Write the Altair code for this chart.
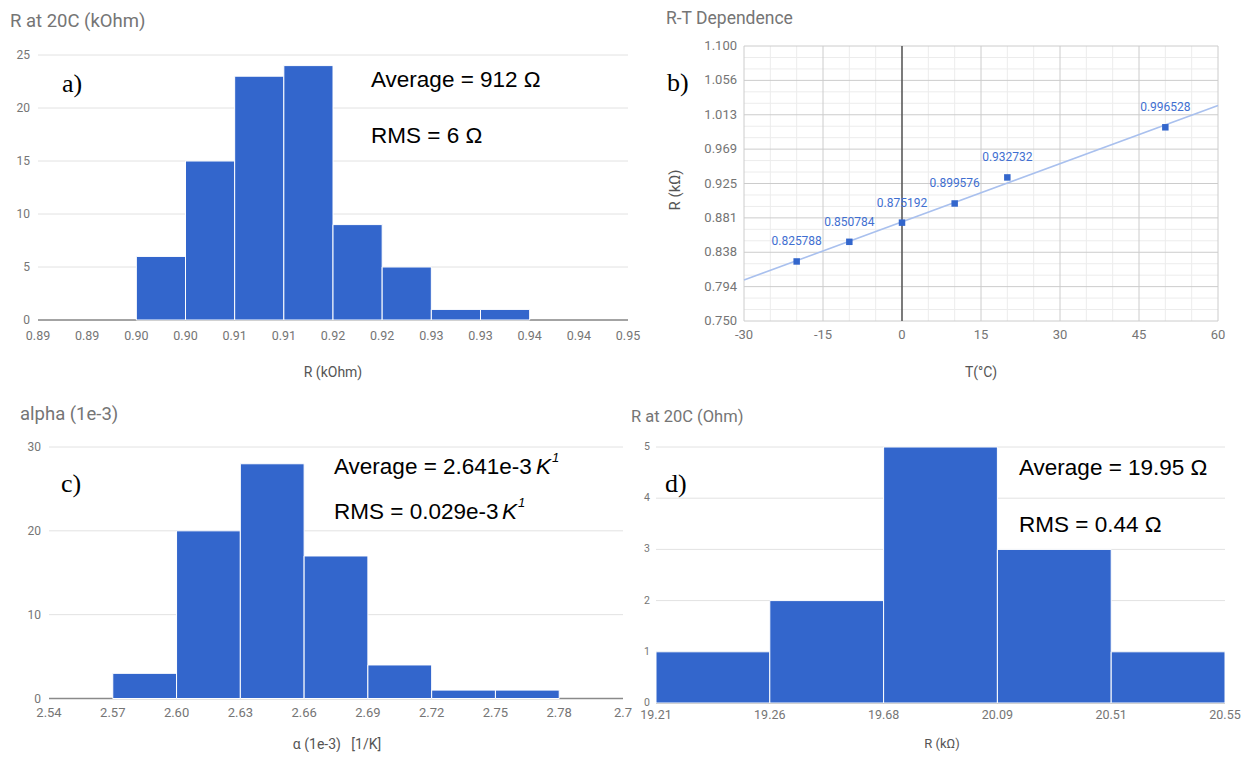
import altair as alt
import pandas as pd

# ---------------- data ----------------
# a) R at 20C (kOhm) histogram
a_bin_lo = [0.900, 0.905, 0.910, 0.915, 0.920, 0.925, 0.930, 0.935]
a_bin_hi = [0.905, 0.910, 0.915, 0.920, 0.925, 0.930, 0.935, 0.940]
a_count = [6, 15, 23, 24, 9, 5, 1, 1]
a_x_ticks = [0.890, 0.895, 0.900, 0.905, 0.910, 0.915, 0.920, 0.925, 0.930, 0.935, 0.940, 0.945, 0.950]
a_x_labels = ["0.89", "0.89", "0.90", "0.90", "0.91", "0.91", "0.92", "0.92", "0.93", "0.93", "0.94", "0.94", "0.95"]
a_y_ticks = [0, 5, 10, 15, 20, 25]
a_y_labels = ["0", "5", "10", "15", "20", "25"]

# b) R-T dependence
b_temp = [-20, -10, 0, 10, 20, 50]
b_res = [0.825788, 0.850784, 0.875192, 0.899576, 0.932732, 0.996528]
b_x_ticks = [-30, -15, 0, 15, 30, 45, 60]
b_x_labels = ["-30", "-15", "0", "15", "30", "45", "60"]
b_y_ticks = [0.750, 0.79375, 0.8375, 0.88125, 0.925, 0.96875, 1.0125, 1.05625, 1.100]
b_y_labels = ["0.750", "0.794", "0.838", "0.881", "0.925", "0.969", "1.013", "1.056", "1.100"]

# c) alpha histogram
c_bin_lo = [2.57, 2.60, 2.63, 2.66, 2.69, 2.72, 2.75]
c_bin_hi = [2.60, 2.63, 2.66, 2.69, 2.72, 2.75, 2.78]
c_count = [3, 20, 28, 17, 4, 1, 1]
c_x_ticks = [2.54, 2.57, 2.60, 2.63, 2.66, 2.69, 2.72, 2.75, 2.78, 2.81]
c_x_labels = ["2.54", "2.57", "2.60", "2.63", "2.66", "2.69", "2.72", "2.75", "2.78", "2.7"]
c_y_ticks = [0, 10, 20, 30]
c_y_labels = ["0", "10", "20", "30"]

# d) R at 20C (Ohm) histogram (equal-width bins, labelled edges)
d_bin_lo = [0, 1, 2, 3, 4]
d_bin_hi = [1, 2, 3, 4, 5]
d_count = [1, 2, 5, 3, 1]
d_x_ticks = [0, 1, 2, 3, 4, 5]
d_x_labels = ["19.21", "19.26", "19.68", "20.09", "20.51", "20.55"]
d_y_ticks = [0, 1, 2, 3, 4, 5]
d_y_labels = ["0", "1", "2", "3", "4", "5"]

# ---------------- styling ----------------
W, H = 1236, 744
BLUE = "#3366cc"
GRID = "#e2e2e2"
LABEL = "#757575"
TITLE = "#555555"
FONT = "Roboto"
ANNOT = "Liberation Sans, Arial, sans-serif"
SERIF = "Liberation Serif, Times New Roman, serif"
NBSP = "\u00a0"


def scale(domain, rng):
    return alt.Scale(domain=domain, range=rng, nice=False, zero=False, padding=0)


def hrule(ticks, x0, x1, xs, ys, color=GRID, width=1.0):
    df = pd.DataFrame({"v": ticks, "x0": x0, "x1": x1})
    return alt.Chart(df).mark_rule(color=color, strokeWidth=width).encode(
        x=alt.X("x0:Q", scale=xs, axis=None), x2="x1:Q",
        y=alt.Y("v:Q", scale=ys, axis=None))


def vrule(ticks, y0, y1, xs, ys, color=GRID, width=1.0):
    df = pd.DataFrame({"v": ticks, "y0": y0, "y1": y1})
    return alt.Chart(df).mark_rule(color=color, strokeWidth=width).encode(
        x=alt.X("v:Q", scale=xs, axis=None),
        y=alt.Y("y0:Q", scale=ys, axis=None), y2="y1:Q")


def hist(lo, hi, cnt, xs, ys):
    df = pd.DataFrame({"lo": lo, "hi": hi, "n": cnt, "z": 0})
    return alt.Chart(df).mark_rect(color=BLUE, stroke="white", strokeWidth=1).encode(
        x=alt.X("lo:Q", scale=xs, axis=None), x2="hi:Q",
        y=alt.Y("n:Q", scale=ys, axis=None), y2="z:Q")


def xlabels(ticks, labels, xs, ypix, size):
    df = pd.DataFrame({"v": ticks, "lab": labels})
    return alt.Chart(df).mark_text(align="center", baseline="middle", font=FONT,
                                   fontSize=size, color=LABEL).encode(
        x=alt.X("v:Q", scale=xs, axis=None), y=alt.value(ypix), text="lab:N")


def ylabels(ticks, labels, ys, xpix, size):
    df = pd.DataFrame({"v": ticks, "lab": labels})
    return alt.Chart(df).mark_text(align="right", baseline="middle", font=FONT,
                                   fontSize=size, color=LABEL).encode(
        x=alt.value(xpix), y=alt.Y("v:Q", scale=ys, axis=None), text="lab:N")


def note(text, x, y, size, font, color="#000000", style="normal", align="left", angle=0):
    kw = {"angle": angle} if angle else {}
    return alt.Chart(pd.DataFrame({"t": [text]})).mark_text(
        align=align, baseline="middle", font=font, fontSize=size, color=color,
        fontStyle=style, **kw).encode(x=alt.value(x), y=alt.value(y), text="t:N")


# ---------------- panel a ----------------
a_xs = scale([a_x_ticks[0], a_x_ticks[-1]], [30, 620])
a_ys = scale([a_y_ticks[0], a_y_ticks[-1]], [312, 47])
panel_a = alt.layer(
    hrule(a_y_ticks, a_x_ticks[0], a_x_ticks[-1], a_xs, a_ys),
    hrule([0], a_x_ticks[0], a_x_ticks[-1], a_xs, a_ys, color="#8a8a8a", width=1.6),
    hist(a_bin_lo, a_bin_hi, a_count, a_xs, a_ys),
    xlabels(a_x_ticks, a_x_labels, a_xs, 328, 12.5),
    ylabels(a_y_ticks, a_y_labels, a_ys, 22, 12),
)

# ---------------- panel b ----------------
b_xs = scale([b_x_ticks[0], b_x_ticks[-1]], [736, 1210])
b_ys = scale([b_y_ticks[0], b_y_ticks[-1]], [313, 38])
b_x_minor = [v + d for v in b_x_ticks[:-1] for d in (5, 10)]
b_y_minor = [b_y_ticks[i] + (b_y_ticks[i + 1] - b_y_ticks[i]) * k / 3
             for i in range(len(b_y_ticks) - 1) for k in (1, 2)]
ymin, ymax = b_y_ticks[0], b_y_ticks[-1]
xmin, xmax = b_x_ticks[0], b_x_ticks[-1]
df_b = pd.DataFrame({"T": b_temp, "R": b_res})

b_trend = alt.Chart(df_b).transform_regression("T", "R", extent=[xmin, xmax]).mark_line(
    color="#a9c0ee", strokeWidth=1.6).encode(
    x=alt.X("T:Q", scale=b_xs, axis=None), y=alt.Y("R:Q", scale=b_ys, axis=None))
b_pts = alt.Chart(df_b).mark_square(color=BLUE, size=42, opacity=1).encode(
    x=alt.X("T:Q", scale=b_xs, axis=None), y=alt.Y("R:Q", scale=b_ys, axis=None))
b_lbl = alt.Chart(df_b).mark_text(color="#3f6fd1", font=FONT, fontSize=12, dy=-20).encode(
    x=alt.X("T:Q", scale=b_xs, axis=None), y=alt.Y("R:Q", scale=b_ys, axis=None),
    text=alt.Text("R:Q", format=".6f"))
panel_b = alt.layer(
    vrule(b_x_minor, ymin, ymax, b_xs, b_ys, color="#ececec"),
    hrule(b_y_minor, xmin, xmax, b_xs, b_ys, color="#ececec"),
    vrule(b_x_ticks, ymin, ymax, b_xs, b_ys, color="#cccccc"),
    hrule(b_y_ticks, xmin, xmax, b_xs, b_ys, color="#cccccc"),
    vrule([0], ymin, ymax, b_xs, b_ys, color="#333333", width=1.2),
    b_trend, b_pts, b_lbl,
    xlabels(b_x_ticks, b_x_labels, b_xs, 327, 13),
    ylabels(b_y_ticks, b_y_labels, b_ys, 729, 13),
)

# ---------------- panel c ----------------
c_xs = scale([c_x_ticks[0], c_x_ticks[-1]], [41, 615])
c_ys = scale([c_y_ticks[0], c_y_ticks[-1]], [690.5, 439])
panel_c = alt.layer(
    hrule(c_y_ticks, c_x_ticks[0], c_x_ticks[-1], c_xs, c_ys),
    hrule([0], c_x_ticks[0], c_x_ticks[-1], c_xs, c_ys, color="#8a8a8a", width=1.6),
    hist(c_bin_lo, c_bin_hi, c_count, c_xs, c_ys),
    xlabels(c_x_ticks, c_x_labels, c_xs, 705, 13),
    ylabels(c_y_ticks, c_y_labels, c_ys, 33, 12),
)

# ---------------- panel d ----------------
d_xs = scale([d_x_ticks[0], d_x_ticks[-1]], [648, 1217])
d_ys = scale([d_y_ticks[0], d_y_ticks[-1]], [695, 439])
panel_d = alt.layer(
    hrule(d_y_ticks, d_x_ticks[0], d_x_ticks[-1], d_xs, d_ys),
    hrule([0], d_x_ticks[0], d_x_ticks[-1], d_xs, d_ys, color="#8a8a8a", width=1.6),
    hist(d_bin_lo, d_bin_hi, d_count, d_xs, d_ys),
    xlabels(d_x_ticks, d_x_labels, d_xs, 707, 12.5),
    ylabels(d_y_ticks, d_y_labels, d_ys, 642, 10.5),
)

# ---------------- titles and annotations ----------------
notes = [
    note("R at 20C (kOhm)", 2, 13, 18.5, FONT, LABEL),
    note("R-T Dependence", 658, 11, 17.5, FONT, LABEL),
    note("alpha (1e-3)", 12, 406, 18.5, FONT, LABEL),
    note("R at 20C (Ohm)", 623, 409, 16.5, FONT, LABEL),
    note("R (kOhm)", 325, 365, 14, FONT, TITLE, align="center"),
    note("T(°C)", 973, 365, 14, FONT, TITLE, align="center"),
    note("R (kΩ)", 667, 182, 15, FONT, TITLE, align="center", angle=270),
    note("α (1e-3)" + NBSP * 3 + "[1/K]", 329, 737, 14, FONT, TITLE, align="center"),
    note("R (kΩ)", 934, 736, 13, FONT, TITLE, align="center"),
    note("a)", 54, 76, 26, SERIF),
    note("b)", 659, 75, 26, SERIF),
    note("c)", 53, 476, 26, SERIF),
    note("d)", 657, 476, 26, SERIF),
    note("Average = 912 Ω", 363, 72, 22.5, ANNOT),
    note("RMS = 6 Ω", 363, 128, 22.5, ANNOT),
    note("Average = 2.641e-3", 326, 459, 22.5, ANNOT),
    note("K", 528, 459, 22.5, ANNOT, style="italic"),
    note("1", 544, 450, 13, ANNOT, style="italic"),
    note("RMS = 0.029e-3", 326, 504, 22.5, ANNOT),
    note("K", 494, 504, 22.5, ANNOT, style="italic"),
    note("1", 510, 495, 13, ANNOT, style="italic"),
    note("Average = 19.95 Ω", 1011, 460, 22.5, ANNOT),
    note("RMS = 0.44 Ω", 1011, 517, 22.5, ANNOT),
]

chart = alt.layer(panel_a, panel_b, panel_c, panel_d, *notes).resolve_scale(
    x="independent", y="independent").properties(
    width=W, height=H, padding=0, background="white",
    autosize=alt.AutoSizeParams(type="none")).configure_view(stroke=None)

chart.save("out.html", embed_options={"renderer": "svg", "actions": False})
